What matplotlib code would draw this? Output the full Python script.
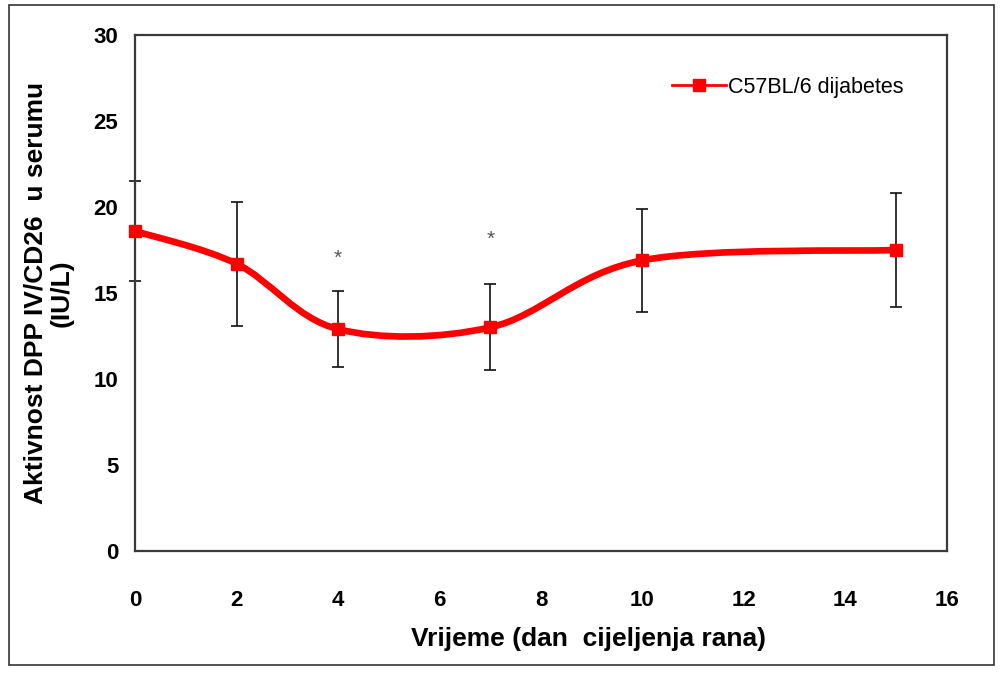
import matplotlib
matplotlib.use("Agg")
import matplotlib.pyplot as plt
import numpy as np
from matplotlib.path import Path
from matplotlib.patches import PathPatch, Rectangle
from matplotlib.lines import Line2D

# DATA
days = [0, 2, 4, 7, 10, 15]
activity = [18.6, 16.7, 12.9, 13.0, 16.9, 17.5]
err = [2.9, 3.6, 2.2, 2.5, 3.0, 3.3]
star_days = [4, 7]
star_y = [17.0, 18.1]
series_name = "C57BL/6 dijabetes"

plt.rcParams['font.family'] = ['Liberation Sans', 'DejaVu Sans']

fig = plt.figure(figsize=(10.04, 6.73), dpi=100)
ax = fig.add_axes([0.1345, 0.1813, 0.8087, 0.7667])

# smoothed line (Catmull-Rom as cubic bezier, like Excel smoothing)
pts = np.column_stack([days, activity])
verts = [tuple(pts[0])]
codes = [Path.MOVETO]
for i in range(len(pts) - 1):
    p0 = pts[i - 1] if i > 0 else pts[i]
    p1 = pts[i]
    p2 = pts[i + 1]
    p3 = pts[i + 2] if i + 2 < len(pts) else pts[i + 1]
    c1 = p1 + (p2 - p0) / 6.0
    c2 = p2 - (p3 - p1) / 6.0
    verts += [tuple(c1), tuple(c2), tuple(p2)]
    codes += [Path.CURVE4] * 3
ax.add_patch(PathPatch(Path(verts, codes), facecolor='none', edgecolor='#ff0000',
                       lw=4.8, zorder=3, capstyle='round', clip_on=False))

eb = ax.errorbar(days, activity, yerr=err, fmt='none', ecolor='#111111', elinewidth=1.2,
                 capsize=4.5, capthick=1.2, zorder=2)
for art in eb.lines[1] + eb.lines[2]:
    art.set_clip_on(False)
ax.plot(days, activity, linestyle='none', marker='s', markersize=9,
        color='#ff0000', zorder=4, clip_on=False)

for xd, yd in zip(star_days, star_y):
    ax.text(xd, yd, '*', ha='center', va='center', fontsize=15, color='#555555')

ax.set_xlim(0, 16)
ax.set_ylim(0, 30)
ax.set_xticks(range(0, 17, 2))
ax.set_yticks(range(0, 31, 5))
ax.tick_params(length=0, labelsize=16)
ax.tick_params(axis='x', pad=28)
ax.tick_params(axis='y', pad=12)
for lab in ax.get_xticklabels() + ax.get_yticklabels():
    lab.set_fontweight('bold')
for sp in ax.spines.values():
    sp.set_linewidth(1.6)
    sp.set_color('#3a3a3a')

ax.set_xlabel("Vrijeme (dan  cijeljenja rana)", fontsize=19, fontweight='bold')
ax.xaxis.set_label_coords(0.559, -0.148)
ax.set_ylabel("Aktivnost DPP IV/CD26  u serumu\n(IU/L)", fontsize=19, fontweight='bold',
              linespacing=1.1)
ax.yaxis.set_label_coords(-0.076, 0.5)

handle = Line2D([], [], color='#ff0000', lw=2, marker='s', markersize=8)
ax.legend([handle], [series_name], loc='upper left', bbox_to_anchor=(0.638, 0.957),
          frameon=False, fontsize=15.5, handlelength=2.5, handletextpad=0.1)

fig.patches.append(Rectangle((0.009, 0.012), 0.981, 0.98, transform=fig.transFigure,
                             fill=False, edgecolor='#333333', lw=1.2))

fig.savefig("out.png", dpi=100)
